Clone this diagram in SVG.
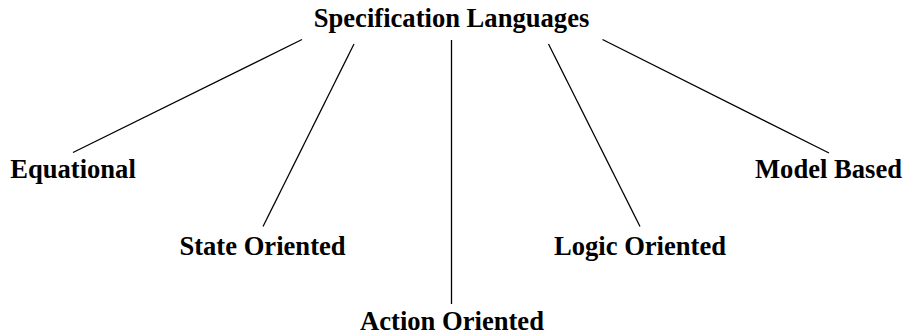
<svg xmlns="http://www.w3.org/2000/svg" width="903" height="336" viewBox="0 0 903 336">
<style>
.lbl{font-family:"Liberation Serif","Times New Roman",serif;font-weight:bold;font-size:26.6px;fill:#000;text-anchor:middle}
.edge{stroke:#000;stroke-width:1.3;fill:none}
</style>
<rect width="903" height="336" fill="#fff"/>
<g id="connectors">
<line class="edge" x1="302" y1="39.5" x2="73" y2="152.5"/>
<line class="edge" x1="354" y1="44" x2="263" y2="226.5"/>
<line class="edge" x1="451.5" y1="40" x2="451.5" y2="304"/>
<line class="edge" x1="548.5" y1="44" x2="640" y2="226.5"/>
<line class="edge" x1="602.5" y1="39.5" x2="829" y2="153"/>
</g>
<g id="root"><text class="lbl" x="451.5" y="27">Specification Languages</text></g>
<g id="equational"><text class="lbl" x="73" y="177.5">Equational</text></g>
<g id="state"><text class="lbl" x="262.5" y="255">State Oriented</text></g>
<g id="action"><text class="lbl" x="452" y="330">Action Oriented</text></g>
<g id="logic"><text class="lbl" x="640" y="254.5">Logic Oriented</text></g>
<g id="model"><text class="lbl" x="828.5" y="178">Model Based</text></g>
</svg>
